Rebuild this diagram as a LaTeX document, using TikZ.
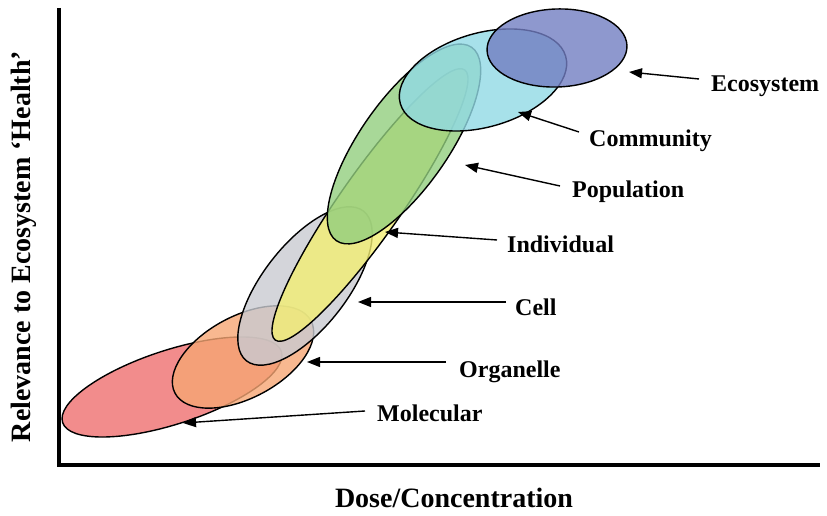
\documentclass[tikz,border=0pt]{standalone}
\usepackage{fontspec}
\setmainfont{Liberation Serif}
\usetikzlibrary{arrows.meta,positioning}
\definecolor{molC}{HTML}{EF6F6F}
\definecolor{orgC}{HTML}{F6A674}
\definecolor{celC}{HTML}{C9CBD1}
\definecolor{indC}{HTML}{F3EE73}
\definecolor{popC}{HTML}{92CE7E}
\definecolor{comC}{HTML}{91DAE5}
\definecolor{ecoC}{HTML}{727EC2}

\begin{document}
\begin{tikzpicture}[x=1pt,y=1pt,
  lvl/.style={draw=black,line width=1.4pt,preaction={fill=#1,fill opacity=0.8}},
  lab/.style={anchor=base west,inner sep=0pt,font=\fontsize{24}{28}\selectfont\bfseries},
  axlab/.style={anchor=base,inner sep=0pt,font=\fontsize{28}{32}\selectfont\bfseries},
  ptr/.style={line width=1.4pt,-{Triangle[length=13pt,width=10pt]}}]
\useasboundingbox (0,0) rectangle (827,516);
% axes
\coordinate (ytop) at (59,508);
\coordinate (orig) at (59,51);
\coordinate (xend) at (820,51);
\draw[line width=3.5pt] (ytop) -- (orig) -- (xend);
\node[axlab] (xlab) at (454,8) {Dose/Concentration};
\node[axlab,rotate=90] (ylab) at (31,269.5) {Relevance to Ecosystem ‘Health’};
% levels, lowest first
\draw[lvl=molC,rotate around={18:(172,129)}] (172,129) ellipse [x radius=115pt,y radius=37pt];
\draw[lvl=orgC,rotate around={28:(243,159)}] (243,159) ellipse [x radius=77pt,y radius=41pt];
\draw[lvl=celC,rotate around={52:(305,230)}] (305,230) ellipse [x radius=95pt,y radius=42pt];
\draw[lvl=indC,rotate around={55:(370,311)}] (370,311) ellipse [x radius=165pt,y radius=31pt];
\draw[lvl=popC,rotate around={55:(404,372)}] (404,372) ellipse [x radius=118pt,y radius=44pt];
\draw[lvl=comC,rotate around={16:(483,436)}] (483,436) ellipse [x radius=86pt,y radius=47pt];
\draw[lvl=ecoC,rotate around={2:(557,468)}] (557,468) ellipse [x radius=70pt,y radius=39pt];
% labels
\node[lab] (eco) at (711,424) {Ecosystem};
\node[lab] (com) at (589,369) {Community};
\node[lab] (pop) at (572,318) {Population};
\node[lab] (ind) at (507,263) {Individual};
\node[lab] (cel) at (515,200) {Cell};
\node[lab] (org) at (459,138) {Organelle};
\node[lab] (mol) at (377,94) {Molecular};
% arrow tips
\coordinate (ecoTip) at (629,444);
\coordinate (comTip) at (518,404);
\coordinate (popTip) at (465,351);
\coordinate (indTip) at (385,284);
\coordinate (celTip) at (358,214);
\coordinate (orgTip) at (307,154);
\coordinate (molTip) at (183,93);
\draw[ptr] ([shift={(-12pt,13pt)}]eco.base west) -- (ecoTip);
\draw[ptr] ([shift={(-10pt,15pt)}]com.base west) -- (comTip);
\draw[ptr] ([shift={(-12pt,12pt)}]pop.base west) -- (popTip);
\draw[ptr] ([shift={(-10pt,13pt)}]ind.base west) -- (indTip);
\draw[ptr] ([shift={(-9pt,14pt)}]cel.base west) -- (celTip);
\draw[ptr] ([shift={(-13pt,16pt)}]org.base west) -- (orgTip);
\draw[ptr] ([shift={(-12pt,11pt)}]mol.base west) -- (molTip);
\end{tikzpicture}
\end{document}
